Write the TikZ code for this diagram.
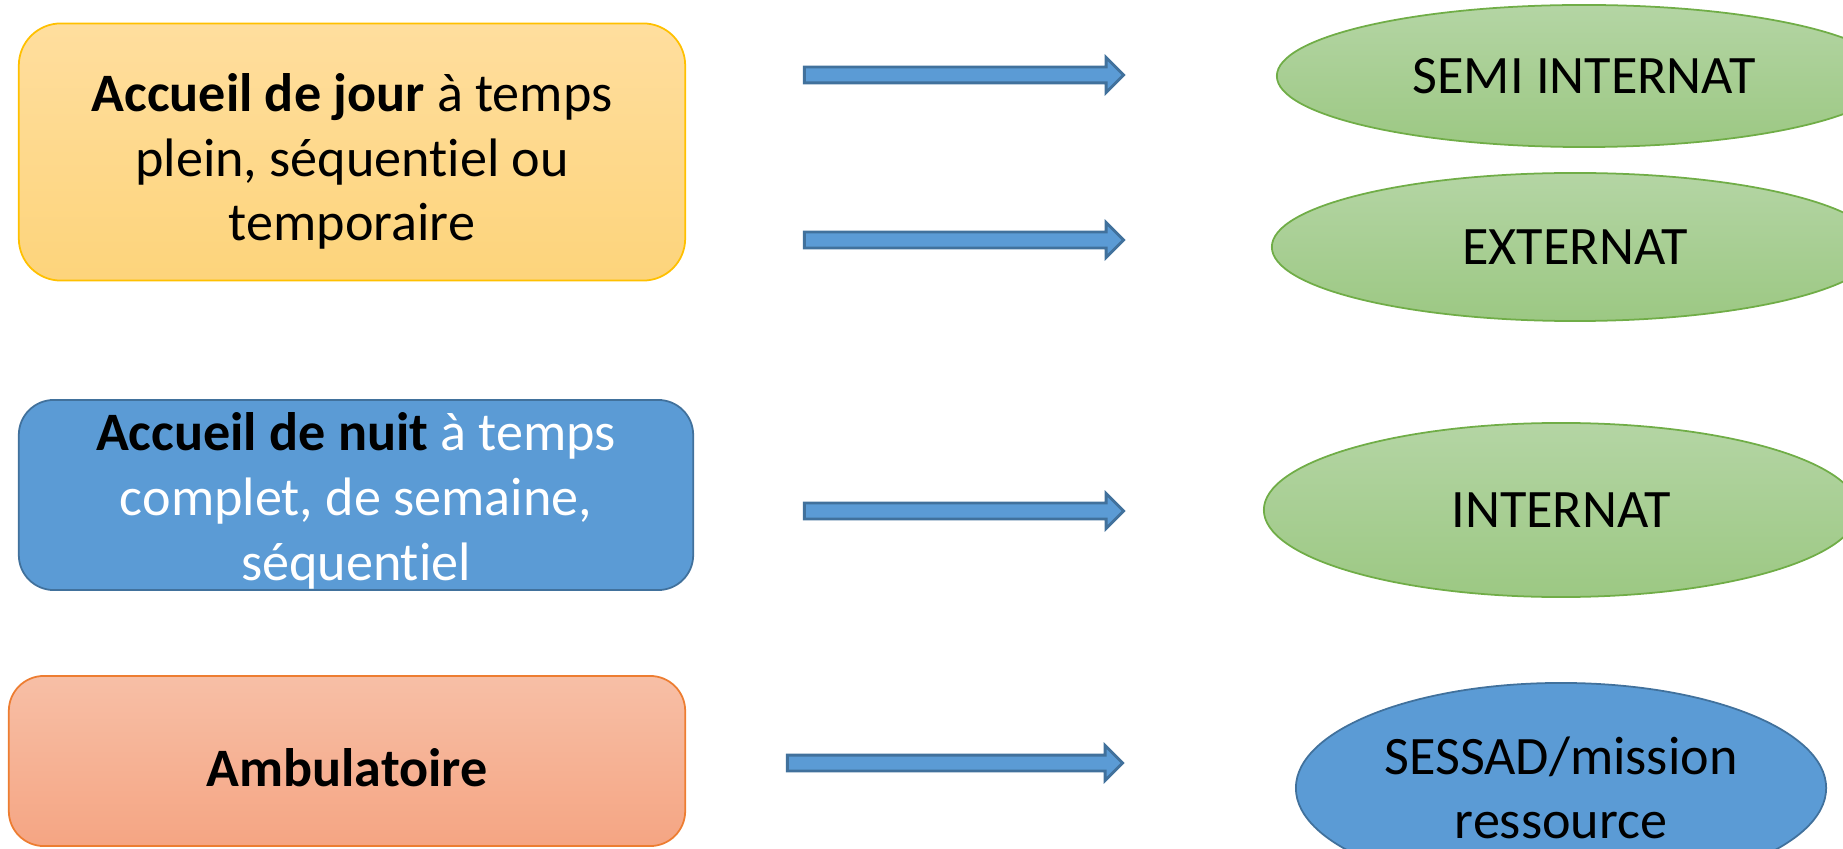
\documentclass[tikz,border=0pt]{standalone}
\usepackage{fontspec}
\setmainfont{Carlito}[Ligatures = NoCommon]
\usetikzlibrary{shapes.geometric}
\usetikzlibrary{shapes.arrows}

\definecolor{jour_top}{HTML}{FFDE9E}
\definecolor{jour_bottom}{HTML}{FDD47B}
\definecolor{jour_line}{HTML}{FFC000}
\definecolor{ambu_top}{HTML}{F7BFA6}
\definecolor{ambu_bottom}{HTML}{F5A583}
\definecolor{ambu_line}{HTML}{ED7D31}
\definecolor{oval_top}{HTML}{B4D5A4}
\definecolor{oval_bottom}{HTML}{9CC883}
\definecolor{oval_line}{HTML}{70AD47}
\definecolor{blue_fill}{HTML}{5B9BD5}
\definecolor{blue_line}{HTML}{41719C}

\begin{document}
\begin{tikzpicture}[x = 0.01cm, y = -0.01cm]
\tikzset{
   font = \fontsize{15.4pt}{18.4pt}\selectfont,
   box/.style = {rectangle, rounded corners = 0.42cm, align = center, line width = 0.5pt},
   day_box/.style = {box, draw = jour_line, top color = jour_top, bottom color = jour_bottom,
                     minimum width = 6.66cm, minimum height = 2.57cm},
   night_box/.style = {box, draw = blue_line, fill = blue_fill, text = white, inner ysep = 0pt,
                       minimum width = 6.74cm, minimum height = 1.9cm, rounded corners = 0.35cm},
   ambu_box/.style = {box, draw = ambu_line, top color = ambu_top, bottom color = ambu_bottom,
                      minimum width = 6.76cm, minimum height = 1.7cm, rounded corners = 0.35cm,
                      text height = 0.51cm, text depth = 0pt},
   oval/.style = {ellipse, align = center, line width = 0.5pt, inner sep = 0pt},
   green_oval/.style = {oval, draw = oval_line, top color = oval_top, bottom color = oval_bottom},
   blue_oval/.style = {oval, draw = blue_line, fill = blue_fill},
   block_arrow/.style = {single arrow, draw = blue_line, fill = blue_fill, line width = 0.8pt,
                         inner sep = 0pt, inner ysep = 0.065cm, minimum width = 0pt,
                         single arrow head extend = 0.095cm, minimum height = 3.19cm}
}
  \useasboundingbox (0,0) rectangle (1843,849);
  \clip (0,0) rectangle (1843,849);

  % left column
  \node[day_box] (jour) at (352,152) {\rule{0pt}{0.57cm}\textbf{Accueil de jour} à temps\\plein, séquentiel ou\\temporaire};
  \node[night_box] (nuit) at (356,495) {\rule{0pt}{0.5cm}\textcolor{black}{\textbf{Accueil de nuit}} à temps\\complet, de semaine,\\séquentiel};
  \node[ambu_box] (ambu) at (347,761) {\textbf{Ambulatoire}};

  % arrows
  \node[block_arrow] (arrow_semi) at (960,75) {};
  \node[block_arrow] (arrow_ext) at (960,240) {};
  \node[block_arrow] (arrow_int) at (960,511) {};
  \node[block_arrow, minimum height = 3.35cm] (arrow_sessad) at (951,763) {};

  % right column
  \node[green_oval, minimum width = 6.14cm, minimum height = 1.42cm] (semi) at (1584,76) {SEMI INTERNAT};
  \node[green_oval, minimum width = 6.06cm, minimum height = 1.48cm] (ext) at (1575,247) {EXTERNAT};
  \node[green_oval, minimum width = 5.94cm, minimum height = 1.74cm] (int) at (1561,510) {INTERNAT};
  \node[blue_oval, minimum width = 5.3cm, minimum height = 2.1cm] (sessad) at (1561,788) {SESSAD/mission\\ressource};

\end{tikzpicture}
\end{document}
